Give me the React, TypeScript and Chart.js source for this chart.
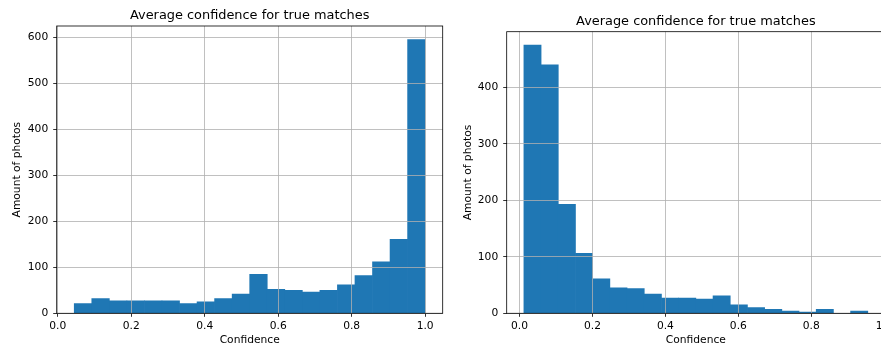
import { useEffect, useRef } from "react";
import { Chart, registerables } from "chart.js";

Chart.register(...registerables);

const TITLE = "Average confidence for true matches";
const X_LABEL = "Confidence";
const Y_LABEL = "Amount of photos";

// Histogram on the left: bin range and counts per bin
const leftBinStart = 0.045;
const leftBinEnd = 1.0;
const leftCounts = [21, 32, 27, 27, 27, 27, 21, 25, 32, 42, 85, 52, 50, 46, 50, 62, 82, 112, 161, 595];
const leftYTicks = [0, 100, 200, 300, 400, 500, 600];

// Histogram on the right
const rightBinStart = 0.012;
const rightBinEnd = 0.955;
const rightCounts = [475, 440, 193, 106, 61, 45, 44, 34, 27, 27, 25, 31, 15, 10, 7, 4, 2, 7, 0, 4];
const rightYTicks = [0, 100, 200, 300, 400];

const xTicks = [0, 0.2, 0.4, 0.6, 0.8, 1.0];

const FONT = '"DejaVu Sans", "Liberation Sans", sans-serif';
const TITLE_SIZE = 12.9;
const LABEL_SIZE = 10.7;
const BAR_COLOR = "#1f77b4";
const GRID_COLOR = "#b0b0b0";

type Frame = { left: number; right: number; top: number; bottom: number };

type PanelProps = {
  counts: number[];
  binStart: number;
  binEnd: number;
  yTicks: number[];
  frame: Frame;
  canvasLeft: number;
  yTitlePad: number;
};

const CANVAS_W = 450;
const CANVAS_H = 347;

// Draws the axes title centred over the plot area and the box around it
const panelDecor = {
  id: "panelDecor",
  afterDraw(chart: any, _args: any, opts: any) {
    const { ctx, chartArea } = chart;
    ctx.save();
    ctx.font = `${TITLE_SIZE}px ${FONT}`;
    ctx.fillStyle = "#000";
    ctx.textAlign = "center";
    ctx.textBaseline = "alphabetic";
    ctx.fillText(opts.text, (chartArea.left + chartArea.right) / 2, chartArea.top - 7);
    ctx.strokeStyle = "#000";
    ctx.lineWidth = 0.8;
    ctx.strokeRect(chartArea.left, chartArea.top, chartArea.right - chartArea.left, chartArea.bottom - chartArea.top);
    ctx.restore();
  },
};

function Histogram({ counts, binStart, binEnd, yTicks, frame, canvasLeft, yTitlePad }: PanelProps) {
  const ref = useRef<HTMLCanvasElement>(null);

  useEffect(() => {
    if (!ref.current) return;
    const n = counts.length;
    const binWidth = (binEnd - binStart) / n;
    const points = counts.map((c, i) => ({ x: binStart + (i + 0.5) * binWidth, y: c }));
    const span = binEnd - binStart;
    const xMin = binStart - 0.05 * span;
    const xMax = binEnd + 0.05 * span;
    const yMax = Math.max(...counts) * 1.05;

    const chart = new Chart(ref.current, {
      type: "bar",
      data: {
        datasets: [
          {
            data: points as any,
            backgroundColor: BAR_COLOR,
            borderWidth: 0,
            barPercentage: 1,
            categoryPercentage: 1,
          },
        ],
      },
      plugins: [panelDecor],
      options: {
        responsive: false,
        animation: false,
        events: [],
        layout: {
          padding: { left: 0, top: frame.top, right: CANVAS_W - frame.right, bottom: 0 },
        },
        plugins: {
          legend: { display: false },
          tooltip: { enabled: false },
          title: { display: false },
          panelDecor: { text: TITLE },
        } as any,
        scales: {
          x: {
            type: "linear",
            min: xMin,
            max: xMax,
            offset: false,
            afterBuildTicks: (scale: any) => {
              scale.ticks = xTicks.map((v) => ({ value: v }));
            },
            afterFit: (scale: any) => {
              scale.height = CANVAS_H - frame.bottom;
            },
            ticks: {
              autoSkip: false,
              maxRotation: 0,
              padding: 3,
              color: "#000",
              font: { family: FONT, size: LABEL_SIZE },
              callback: (v: any) => Number(v).toFixed(1),
            },
            grid: {
              z: 1,
              offset: false,
              color: GRID_COLOR,
              lineWidth: 0.8,
              tickColor: "#000",
              tickLength: 3.5,
              tickWidth: 0.8,
            },
            border: { display: false },
            title: {
              display: true,
              text: X_LABEL,
              color: "#000",
              font: { family: FONT, size: LABEL_SIZE },
              padding: { top: 0, bottom: 0.6 },
            },
          },
          y: {
            type: "linear",
            min: 0,
            max: yMax,
            afterBuildTicks: (scale: any) => {
              scale.ticks = yTicks.map((v) => ({ value: v }));
            },
            afterFit: (scale: any) => {
              scale.width = frame.left;
            },
            ticks: {
              padding: 5,
              color: "#000",
              font: { family: FONT, size: LABEL_SIZE },
              callback: (v: any) => String(v),
            },
            grid: {
              z: 1,
              color: GRID_COLOR,
              lineWidth: 0.8,
              tickColor: "#000",
              tickLength: 3.5,
              tickWidth: 0.8,
            },
            border: { display: false },
            title: {
              display: true,
              text: Y_LABEL,
              color: "#000",
              font: { family: FONT, size: LABEL_SIZE },
              padding: { top: yTitlePad, bottom: 0 },
            },
          },
        },
      },
    });
    return () => chart.destroy();
  }, [counts, binStart, binEnd, yTicks, frame, yTitlePad]);

  return (
    <canvas
      ref={ref}
      width={CANVAS_W}
      height={CANVAS_H}
      style={{ position: "absolute", left: canvasLeft, top: 0, width: CANVAS_W, height: CANVAS_H }}
    />
  );
}

const leftFrame: Frame = { left: 56.7, right: 442.7, top: 26, bottom: 313.3 };
const rightFrame: Frame = { left: 56.7, right: 435, top: 31.7, bottom: 313.3 };

export default function App() {
  return (
    <div
      style={{
        position: "fixed",
        left: 0,
        top: 0,
        width: 881,
        height: 347,
        overflow: "hidden",
        background: "#fff",
      }}
    >
      <Histogram
        counts={leftCounts}
        binStart={leftBinStart}
        binEnd={leftBinEnd}
        yTicks={leftYTicks}
        frame={leftFrame}
        canvasLeft={0}
        yTitlePad={10.8}
      />
      <Histogram
        counts={rightCounts}
        binStart={rightBinStart}
        binEnd={rightBinEnd}
        yTicks={rightYTicks}
        frame={rightFrame}
        canvasLeft={450}
        yTitlePad={11.4}
      />
    </div>
  );
}
